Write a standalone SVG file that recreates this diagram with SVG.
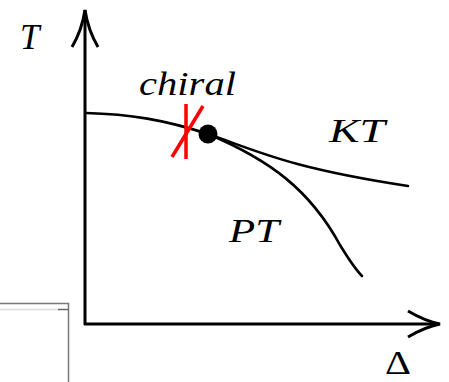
<svg xmlns="http://www.w3.org/2000/svg" width="449" height="382" viewBox="0 0 449 382">
<style>
.ax{fill:none;stroke:#000;stroke-width:3}
.cv{fill:none;stroke:#000;stroke-width:2.6;stroke-linecap:round}
.rd{fill:none;stroke:#f00;stroke-width:3.5}
.lb{font-family:"Liberation Serif","DejaVu Serif",serif;font-style:italic;font-size:33px;fill:#000}
.gr{fill:none;stroke:#777;stroke-width:1.5}
</style>
<rect width="449" height="382" fill="#fff"/>
<g id="frame">
<path class="gr" d="M0 303.5H68.5V382"/>
<path d="M0 309.5H58" stroke="#ddd" stroke-width="1.5"/>
<path d="M58 309.5H68" stroke="#666" stroke-width="1.5"/>
</g>
<g id="connectors">
<path class="ax" d="M85 325V10"/>
<path class="ax" d="M72 47Q82 30 85 10Q88 30 98 47"/>
<path class="ax" d="M84 324H438"/>
<path class="ax" d="M408 311Q425 321 440 324Q425 327 408 337"/>
<path class="cv" d="M86 113C130 114 165 120 208 134"/>
<path class="cv" d="M208 134C260 152 290 168 408 186"/>
<path class="cv" d="M208 134C270 160 310 190 340 245C348 258 354 268 362 276"/>
</g>
<g id="cross">
<path class="rd" d="M186 104V159"/>
<path class="rd" d="M203 106L172 157"/>
</g>
<g id="dot"><circle cx="208" cy="134" r="9.5" fill="#000"/></g>
<g id="labels">
<text class="lb" x="20" y="49" style="font-size:35px">T</text>
<text class="lb" x="139" y="95" textLength="97" lengthAdjust="spacingAndGlyphs">chiral</text>
<text class="lb" x="329" y="142" textLength="56" lengthAdjust="spacingAndGlyphs">KT</text>
<text class="lb" x="229" y="242" textLength="50" lengthAdjust="spacingAndGlyphs">PT</text>
<text x="385" y="374" font-family="'Liberation Serif','DejaVu Serif',serif" font-size="33" textLength="26" lengthAdjust="spacingAndGlyphs">Δ</text>
</g>
</svg>
